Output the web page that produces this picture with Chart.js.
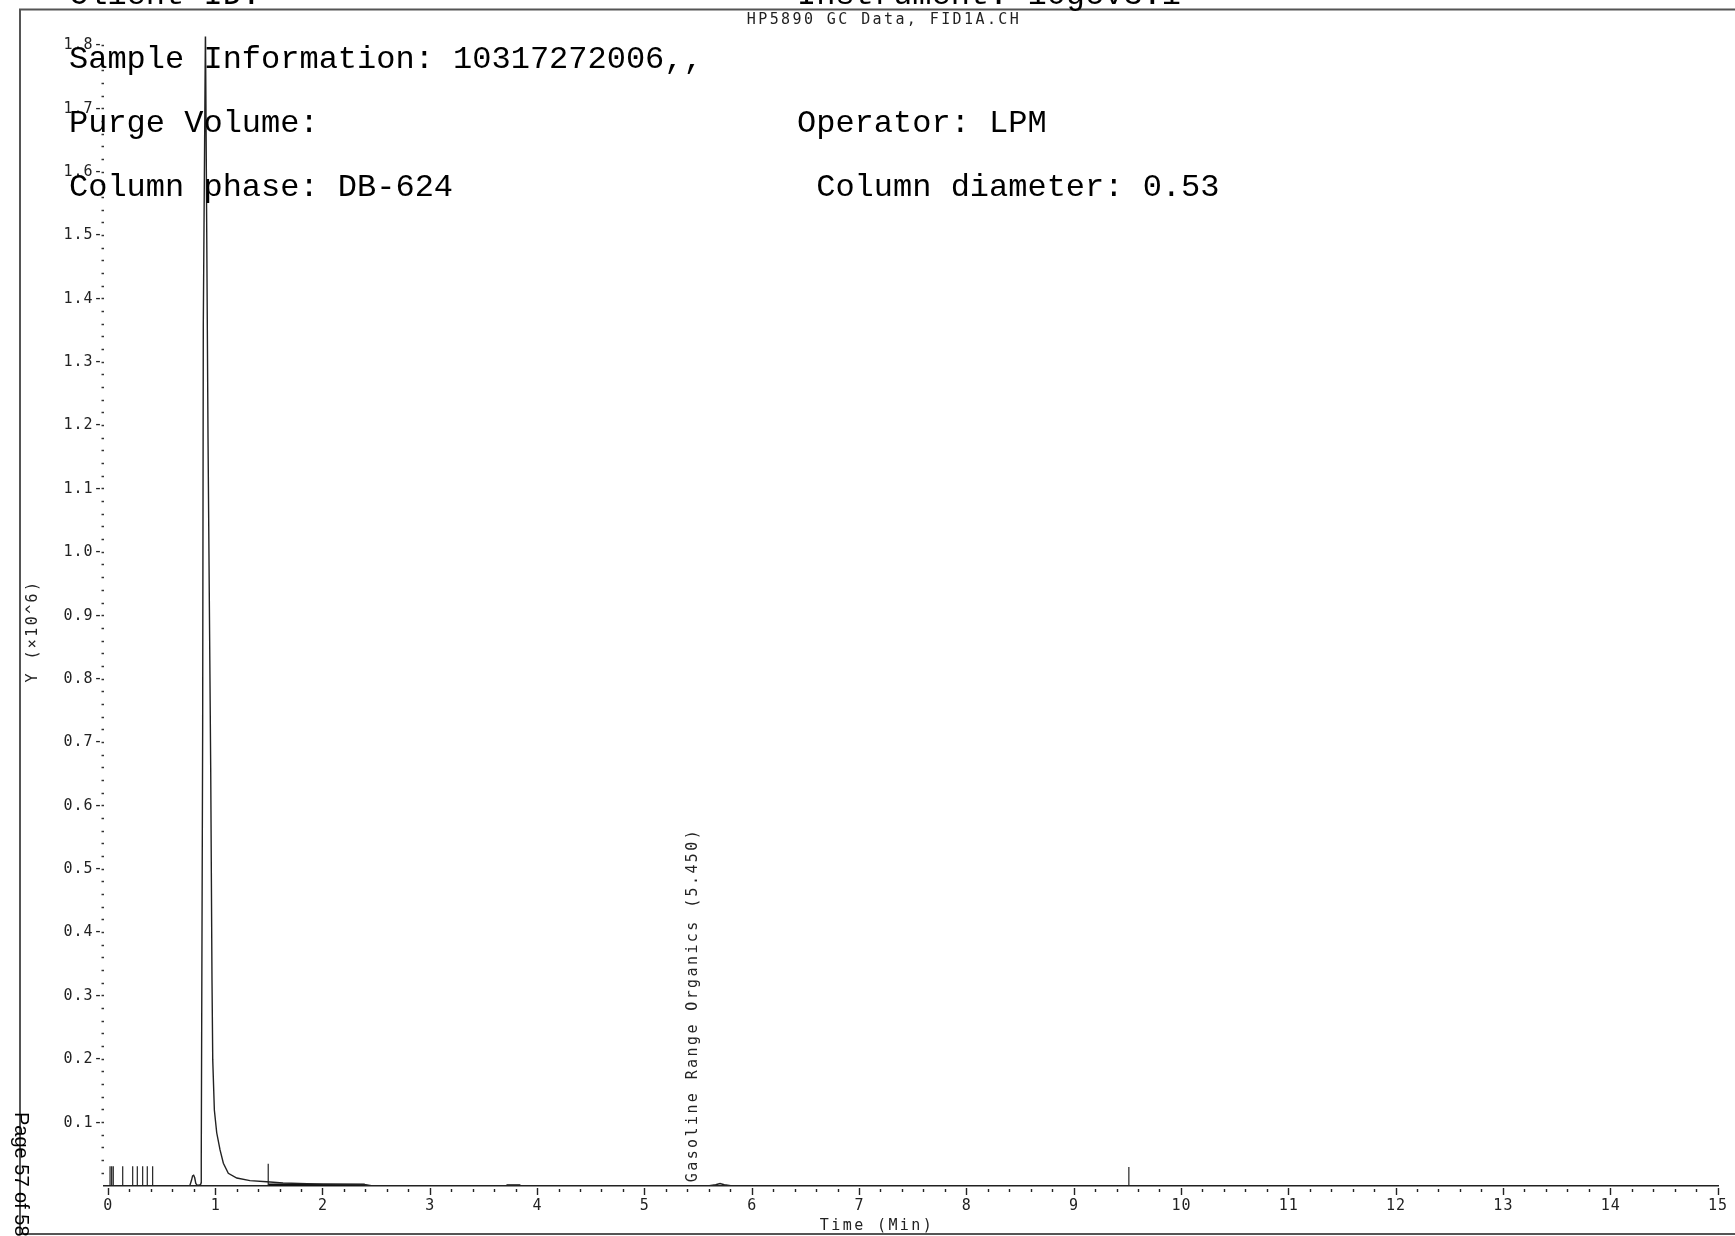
<!DOCTYPE html>
<html>
<head>
<meta charset="utf-8">
<script src="https://cdn.jsdelivr.net/npm/chart.js@4"></script>
<style>
html, body { margin: 0; padding: 0; background: #fff; }
canvas { display: block; }
</style>
</head>
<body>
<canvas id="chart" width="1735" height="1236"></canvas>
<script>
// chromatogram trace: time (min) and response (x10^6)
const sigTime = [0, 0.70, 0.76, 0.775, 0.785, 0.795, 0.805, 0.815, 0.83, 0.86, 0.864, 0.866, 0.879, 0.885, 0.905,
  0.929, 0.954, 0.966, 0.973, 0.988, 1.01, 1.041, 1.072, 1.118, 1.197, 1.32, 1.476, 1.628, 2.0, 2.4, 2.45,
  3.70, 3.85, 5.60, 5.66, 5.70, 5.74, 5.80, 15];
const sigValue = [0, 0, 0.001, 0.009, 0.016, 0.017, 0.013, 0.004, 0.001, 0.002, 0.005, 0.041, 0.72, 1.36, 1.83,
  1.18, 0.66, 0.325, 0.199, 0.12, 0.084, 0.057, 0.036, 0.020, 0.0126, 0.0084, 0.0068, 0.0047, 0.003, 0.002, 0.0005,
  0.0005, 0.0005, 0.0003, 0.002, 0.004, 0.002, 0.0003, 0.0002];

// integration event marks
const evTime = [0.016, 0.031, 0.046, 0.134, 0.227, 0.27, 0.32, 0.363, 0.413, 1.49, 9.51];
const evHeight = [0.031, 0.031, 0.031, 0.031, 0.031, 0.031, 0.031, 0.031, 0.031, 0.035, 0.03];

// drawn baselines
const blStart = [1.49, 3.71];
const blEnd = [2.39, 3.84];
const blLevel = [0.002, 0.0008];

// peak label
const peakName = 'Gasoline Range Organics (5.450)';
const peakTime = 5.45;

// axis ticks
const xTicks = [0, 1, 2, 3, 4, 5, 6, 7, 8, 9, 10, 11, 12, 13, 14, 15];
const yTicks = [0.1, 0.2, 0.3, 0.4, 0.5, 0.6, 0.7, 0.8, 0.9, 1.0, 1.1, 1.2, 1.3, 1.4, 1.5, 1.6, 1.7, 1.8];
const minorPerMajor = 5;

// header text
const headLeft = ['Client ID:', 'Sample Information: 10317272006,,', 'Purge Volume:', 'Column phase: DB-624'];
const headRight = ['Instrument: 10gcv3.i', '', 'Operator: LPM', ' Column diameter: 0.53'];
const plotTitle = 'HP5890 GC Data, FID1A.CH';
const xTitle = 'Time (Min)';
const yTitle = 'Y (\u00d710^6)';
const pageText = 'Page 57 of 58';

const smallFont = '15px "DejaVu Sans Mono"';

// full tick lists incl. minor marks
const xTickVals = [];
xTicks.forEach((m, i) => {
  xTickVals.push(m);
  if (i < xTicks.length - 1) {
    for (let k = 1; k < minorPerMajor; k++) xTickVals.push((m * minorPerMajor + k) / minorPerMajor);
  }
});
const yTickVals = [];
yTicks.forEach((m, i) => {
  const prev = i === 0 ? 0 : yTicks[i - 1];
  for (let k = 1; k < minorPerMajor; k++) yTickVals.push(prev + (m - prev) * k / minorPerMajor);
  yTickVals.push(m);
});
const isMajorX = v => xTicks.some(m => Math.abs(m - v) < 1e-6);
const isMajorY = v => yTicks.some(m => Math.abs(m - v) < 1e-6);

const eventData = [];
evTime.forEach((t, i) => {
  eventData.push({ x: t, y: 0 }, { x: t, y: evHeight[i] }, { x: t, y: null });
});
const baseData = [];
blStart.forEach((s, i) => {
  baseData.push({ x: s, y: blLevel[i] }, { x: blEnd[i], y: blLevel[i] }, { x: blEnd[i], y: null });
});

const decor = {
  id: 'decor',
  beforeDraw(chart) {
    const ctx = chart.ctx;
    ctx.save();
    ctx.fillStyle = '#fff';
    ctx.fillRect(0, 0, chart.width, chart.height);
    ctx.restore();
    ctx.letterSpacing = '1px';
  },
  afterDraw(chart) {
    const ctx = chart.ctx;
    const xs = chart.scales.x, ys = chart.scales.y;
    ctx.save();
    // page frame
    ctx.strokeStyle = '#555';
    ctx.lineWidth = 2;
    ctx.strokeRect(20, 9.5, 1800, 1224.5);

    // small labels
    ctx.fillStyle = '#222';
    ctx.font = smallFont;
    ctx.letterSpacing = '2.4px';
    ctx.textBaseline = 'middle';
    ctx.textAlign = 'center';
    ctx.fillText(plotTitle, 884, 20);
    ctx.fillText(xTitle, 877, 1226);

    ctx.save();
    ctx.translate(33, 631);
    ctx.rotate(-Math.PI / 2);
    ctx.fillText(yTitle, 0, 0);
    ctx.restore();

    ctx.save();
    ctx.translate(xs.getPixelForValue(peakTime), ys.getPixelForValue(0.006));
    ctx.rotate(-Math.PI / 2);
    ctx.textAlign = 'left';
    ctx.fillText(peakName, 0, 0);
    ctx.restore();

    // header block
    ctx.letterSpacing = '0px';
    ctx.fillStyle = '#000';
    ctx.font = '32px "Liberation Mono"';
    ctx.textAlign = 'left';
    ctx.textBaseline = 'alphabetic';
    headLeft.forEach((s, i) => {
      const y = 4 + i * 64;
      ctx.fillText(s, 69, y);
      if (headRight[i]) ctx.fillText(headRight[i], 797, y);
    });

    // page stamp
    ctx.font = '20px "Liberation Sans"';
    ctx.textBaseline = 'middle';
    ctx.save();
    ctx.translate(21, 1112);
    ctx.rotate(Math.PI / 2);
    ctx.fillText(pageText, 0, 0);
    ctx.restore();
    ctx.restore();
  }
};

new Chart(document.getElementById('chart'), {
  type: 'line',
  data: {
    datasets: [
      {
        data: sigTime.map((t, i) => ({ x: t, y: sigValue[i] })),
        borderColor: '#222',
        borderWidth: 1.4,
        pointRadius: 0,
        tension: 0
      },
      {
        data: eventData,
        borderColor: '#222',
        borderWidth: 1.2,
        pointRadius: 0,
        spanGaps: false
      },
      {
        data: baseData,
        borderColor: '#111',
        borderWidth: 2.6,
        pointRadius: 0,
        spanGaps: false
      }
    ]
  },
  options: {
    responsive: false,
    devicePixelRatio: 1,
    animation: false,
    events: [],
    layout: { padding: { top: 36.5, right: 17, left: 0, bottom: 0 } },
    plugins: { legend: { display: false }, tooltip: { enabled: false }, title: { display: false } },
    scales: {
      x: {
        type: 'linear',
        min: -0.045,
        max: 15,
        afterBuildTicks: s => { s.ticks = xTickVals.map(v => ({ value: v })); },
        afterFit: s => { s.height = 50; },
        border: { display: true, color: '#222', width: 1.5 },
        grid: {
          drawOnChartArea: false,
          drawTicks: true,
          tickLength: 9,
          tickWidth: 1.4,
          tickColor: '#222',
          tickBorderDash: c => (c.tick && isMajorX(c.tick.value)) ? [0, 1.5, 7, 20] : [0, 2.5, 3, 20]
        },
        ticks: {
          autoSkip: false,
          maxRotation: 0,
          padding: 2,
          color: '#222',
          font: { family: 'DejaVu Sans Mono', size: 15 },
          callback: v => isMajorX(v) ? String(Math.round(v)) : ''
        }
      },
      y: {
        type: 'linear',
        min: 0,
        max: 1.814,
        afterBuildTicks: s => { s.ticks = yTickVals.map(v => ({ value: v })); },
        afterFit: s => { s.width = 103.5; },
        border: { display: false },
        grid: {
          drawOnChartArea: false,
          drawTicks: true,
          tickLength: 2,
          tickWidth: 1.5,
          tickColor: '#333'
        },
        ticks: {
          autoSkip: false,
          padding: -2,
          color: '#222',
          font: { family: 'DejaVu Sans Mono', size: 15 },
          callback: v => isMajorY(v) ? v.toFixed(1) + '-' : ''
        }
      }
    }
  },
  plugins: [decor]
});
</script>
</body>
</html>
